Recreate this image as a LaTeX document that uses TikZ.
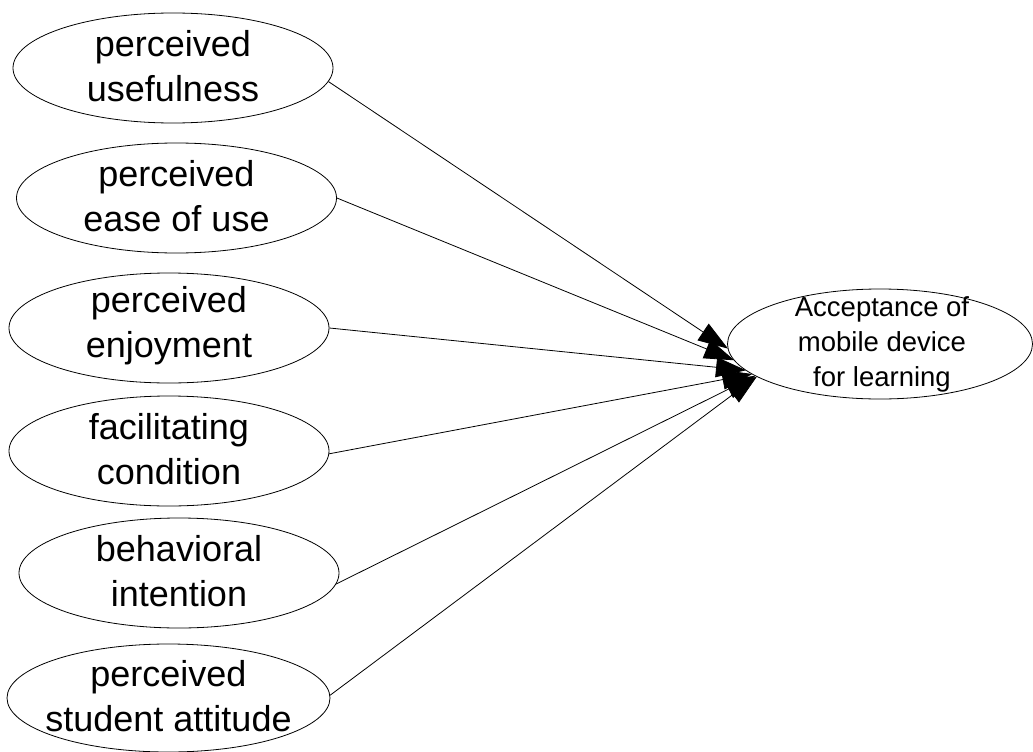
\documentclass[tikz,border=0pt]{standalone}
\usepackage{fontspec}
\setmainfont{Liberation Sans}
\usetikzlibrary{shapes.geometric, arrows.meta, intersections}
\begin{document}
\begin{tikzpicture}[x=1pt,y=-1pt,
  oval/.style={draw, ellipse, line width=0.8pt, minimum width=320pt, minimum height=110pt, inner sep=0pt},
  lbl/.style={align=center, font=\fontsize{36}{45}\selectfont, inner sep=0pt},
  rlbl/.style={align=center, font=\fontsize{27.5}{35}\selectfont, inner sep=0pt},
  link/.style={line width=0.8pt, -{Triangle[length=30pt,width=20pt]}}]
\useasboundingbox (0,0) rectangle (1033,752);
\node[oval] (e1) at (173,68) {};
\node[oval] (e2) at (176.5,198) {};
\node[oval] (e3) at (169,328) {};
\node[oval] (e4) at (169,451) {};
\node[oval] (e5) at (179,573) {};
\node[oval, minimum width=323pt, minimum height=108pt] (e6) at (168.5,698) {};
\node[lbl] (t1) at ([yshift=2pt]e1.center) {perceived\\usefulness};
\node[lbl] (t2) at ([yshift=2pt]e2.center) {perceived\\ease of use};
\node[lbl] (t3) at ([yshift=2pt]e3.center) {perceived\\enjoyment};
\node[lbl] (t4) at ([yshift=2pt]e4.center) {facilitating\\condition};
\node[lbl] (t5) at ([yshift=2pt]e5.center) {behavioral\\intention};
\node[lbl] (t6) at ([yshift=2pt]e6.center) {perceived\\student attitude};
\node[oval, minimum width=305pt] (acc) at (880,344) {};
\node[rlbl] (tacc) at (882,344) {Acceptance of\\mobile device\\for learning};
\path[name path=accp] (acc.center) ellipse [x radius=152.5, y radius=55];
\coordinate (conv) at (763,372);
\foreach \i/\a in {1/-5,2/0,3/0,4/-1,5/-4,6/1} {
  \path[name path=ln] (e\i.\a) -- (conv);
  \draw[link, name intersections={of=ln and accp, by=p\i}] (e\i.\a) -- (p\i);
}
\end{tikzpicture}
\end{document}
